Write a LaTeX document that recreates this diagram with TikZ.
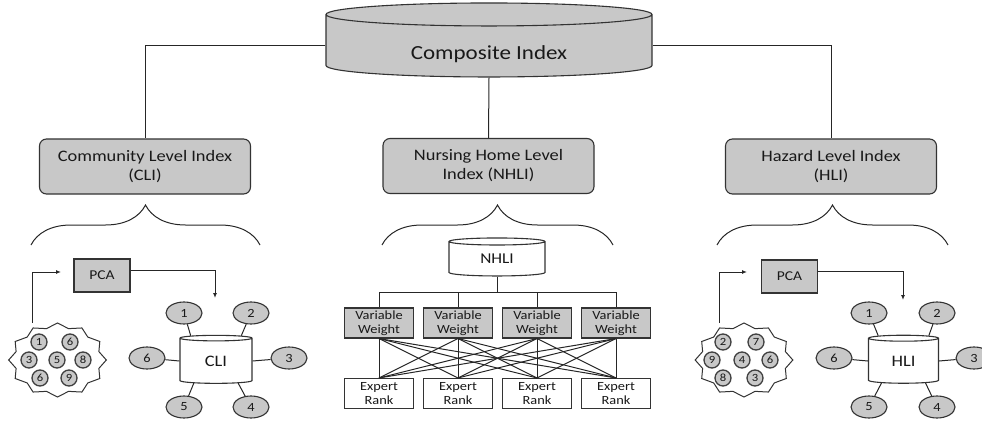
\documentclass[tikz,border=0pt]{standalone}
\usepackage{fontspec}
\setmainfont{Carlito}[FakeStretch=1.15]
\usepackage{tikz}
\usetikzlibrary{
  arrows.meta,
  positioning,
  shapes.geometric,
  decorations.pathreplacing
}

\begin{document}
\begin{tikzpicture}[
  x=1pt, y=-1pt,
  every node/.style={font=\fontsize{12.5}{13.5}\selectfont, text=black!90},
  lnk/.style={draw=black!85, line width=1pt},
  arr/.style={lnk, -{Latex[length=5pt,width=4pt]}},
  brc/.style={draw=black!85, line width=1pt, decorate, decoration={brace, amplitude=40pt}},
  lvl/.style={rectangle, rounded corners=7pt, draw=black!80, line width=1.1pt, fill=cGray,
    minimum width=211pt, minimum height=55pt, align=center, font=\fontsize{16}{19}\selectfont},
  db/.style={cylinder, shape border rotate=90, draw=black!80, line width=1.1pt, fill=white, inner sep=0pt},
  sat/.style={ellipse, draw=black!80, line width=1.1pt, fill=cGray, minimum width=36pt,
    minimum height=22pt, inner sep=0pt, font=\fontsize{12.5}{12.5}\selectfont},
  dot/.style={circle, draw=black!75, line width=1.3pt, fill=cGray, minimum size=16pt,
    inner sep=0pt, font=\fontsize{11}{11}\selectfont},
  pca/.style={rectangle, draw=black!80, line width=1.1pt, fill=cGray, minimum width=56pt,
    minimum height=33pt, font=\fontsize{13.5}{13.5}\selectfont},
  wbox/.style={rectangle, draw=black!80, line width=1.1pt, fill=cGray, minimum width=69pt,
    minimum height=30pt, inner sep=0pt, align=center},
  rbox/.style={wbox, fill=white},
  starbox/.style={star, star points=12, star point ratio=1.14, draw=black!80, line width=1pt,
    fill=white, minimum size=74pt, inner sep=0pt, xscale=1.32}
]
  \definecolor{cGray}{RGB}{200,200,200}
  \useasboundingbox (0,0) rectangle (982,425);

  % top of the tree
  \node[db, fill=cGray, minimum width=326pt, minimum height=74pt, aspect=0.147,
    text height=28pt, text depth=0pt, font=\fontsize{20}{24}\selectfont] (comp) at (489,46) {Composite Index};

  \node[lvl] (cli) at (145,166.5) {Community Level Index\\(CLI)};
  \node[lvl] (nhli) at (488.5,166) {Nursing Home Level\\Index (NHLI)};
  \node[lvl] (hli) at (831,166.5) {Hazard Level Index\\(HLI)};

  \draw[lnk] (comp.west) -| (cli.north);
  \draw[lnk] (comp.south) -- (nhli.north);
  \draw[lnk] (comp.east) -| (hli.north);

  % braces
  \coordinate (b1l) at (31,245);  \coordinate (b1r) at (260,245);
  \coordinate (b2l) at (382,245); \coordinate (b2r) at (613,245);
  \coordinate (b3l) at (717,245); \coordinate (b3r) at (948,245);
  \draw[brc] (b1l) -- (b1r);
  \draw[brc] (b2l) -- (b2r);
  \draw[brc] (b3l) -- (b3r);

  % community level
  \node[pca] (pca1) at (102,275.5) {PCA};
  \node[starbox] (st1) at (57.5,360) {};
  \foreach \lab/\px/\py [count=\k] in {1/39/342, 6/70/342, 3/29/360, 5/57/360, 8/83/360, 6/40/378, 9/69/378}
    \node[dot] (ca\k) at (\px,\py) {\lab};
  \coordinate (a1s) at (32,323);
  \coordinate (a1e) at (61,272);
  \coordinate (a1o) at (215,298);
  \draw[arr] (a1s) |- (a1e);
  \draw[arr] ([yshift=5pt]pca1.east) -| (a1o);

  \node[db, minimum width=72pt, minimum height=48pt, aspect=0.25, font=\fontsize{16}{16}\selectfont] (clidb) at (216,361) {CLI};
  \foreach \lab/\px/\py/\ang in {1/184/313/135, 2/251/313/45, 3/289/358/0, 4/251/407/-45, 5/184/407/-135, 6/147/358/180}{
    \node[sat] (cs\lab) at (\px,\py) {\lab};
    \draw[lnk] (cs\lab) -- (clidb.\ang);
  }

  % nursing home level
  \node[db, minimum width=96pt, minimum height=38pt, aspect=0.21, font=\fontsize{15}{15}\selectfont] (nhdb) at (497,259) {NHLI};
  \coordinate (bus) at (497,292);
  \foreach \i/\px in {1/379, 2/458, 3/537, 4/616}{
    \node[wbox] (vw\i) at (\px,323) {Variable\\Weight};
    \node[rbox] (er\i) at (\px,393.5) {Expert\\Rank};
  }
  \draw[lnk] (nhdb.south) -- (bus);
  \draw[lnk] (vw1.north |- bus) -- (vw4.north |- bus);
  \foreach \i in {1,...,4}
    \draw[lnk] (vw\i.north |- bus) -- (vw\i.north);
  \foreach \i in {1,...,4}
    \foreach \j in {1,...,4}
      \draw[lnk] (vw\i.south) -- (er\j.north);

  % hazard level
  \node[pca] (pca3) at (789.5,276.5) {PCA};
  \node[starbox] (st3) at (744,360) {};
  \foreach \lab/\px/\py [count=\k] in {2/723/342, 7/756/342, 9/712/360, 4/742/360, 6/770/360, 8/723/378, 3/755/378}
    \node[dot] (ha\k) at (\px,\py) {\lab};
  \coordinate (a3s) at (719,323);
  \coordinate (a3e) at (747,272);
  \coordinate (a3o) at (903,300);
  \draw[arr] (a3s) |- (a3e);
  \draw[arr] ([yshift=5pt]pca3.east) -| (a3o);

  \node[db, minimum width=70pt, minimum height=48pt, aspect=0.25, font=\fontsize{16}{16}\selectfont] (hlidb) at (903.5,361) {HLI};
  \foreach \lab/\px/\py/\ang in {1/869/313/135, 2/937/313/45, 3/974/358/0, 4/937/407/-45, 5/869/407/-135, 6/834/358/180}{
    \node[sat] (hs\lab) at (\px,\py) {\lab};
    \draw[lnk] (hs\lab) -- (hlidb.\ang);
  }
\end{tikzpicture}
\end{document}
